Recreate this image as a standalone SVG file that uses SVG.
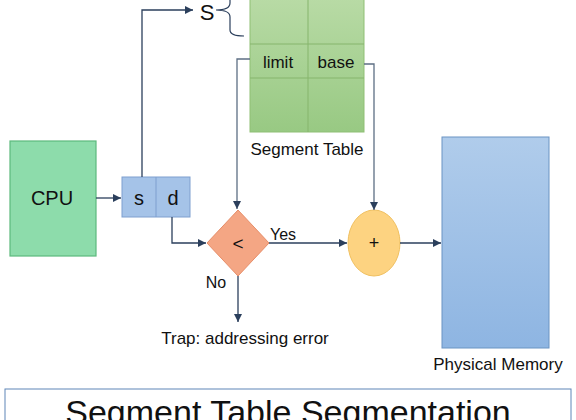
<svg xmlns="http://www.w3.org/2000/svg" width="576" height="420" viewBox="0 0 576 420">
<defs>
<linearGradient id="gTable" x1="0" y1="0" x2="0" y2="1"><stop offset="0" stop-color="#b9dba6"/><stop offset="1" stop-color="#98c983"/></linearGradient>
<linearGradient id="gMem" x1="0" y1="0" x2="0" y2="1"><stop offset="0" stop-color="#b0cceb"/><stop offset="1" stop-color="#8eb5e2"/></linearGradient>
<marker id="arr" viewBox="0 0 10 10" refX="10" refY="5" markerWidth="8" markerHeight="8" markerUnits="userSpaceOnUse" orient="auto"><path d="M0,0 L10,5 L0,10 z" fill="#2b3f5c"/></marker>
</defs>
<style>
text{font-family:"Liberation Sans",Arial,sans-serif;fill:#111;}
.lbl{font-size:17px;}
.conn{fill:none;stroke:#2b3f5c;stroke-width:1.3;}
.thin{fill:none;stroke:#5d6f84;stroke-width:1.3;}
</style>
<rect width="576" height="420" fill="#fff"/>

<g id="segment-table">
<rect x="250" y="-5" width="114" height="137" fill="url(#gTable)" stroke="#8fbf75" stroke-width="1"/>
<line x1="250" y1="44" x2="364" y2="44" stroke="#86b56d" stroke-width="1"/>
<line x1="250" y1="78" x2="364" y2="78" stroke="#86b56d" stroke-width="1"/>
<line x1="308" y1="-5" x2="308" y2="132" stroke="#86b56d" stroke-width="1"/>
<text x="278" y="68" font-size="17" text-anchor="middle">limit</text>
<text x="336" y="68" font-size="17" text-anchor="middle">base</text>
<text x="307" y="155" class="lbl" text-anchor="middle">Segment Table</text>
</g>

<g id="s-label">
<text x="207" y="20" font-size="22" text-anchor="middle">S</text>
<path d="M230,-5 L230,3 Q230,10 216,10 Q230,10 230,17 L230,30 Q230,36 244,36" fill="none" stroke="#2b3f5c" stroke-width="1.2"/>
</g>

<g id="cpu">
<rect x="10" y="141" width="86" height="115" fill="#8ddcab" stroke="#5db97d" stroke-width="1.2"/>
<text x="52" y="205" font-size="20" text-anchor="middle">CPU</text>
</g>

<g id="address">
<rect x="122" y="177" width="68" height="40" fill="#a5c3e8" stroke="#7e9fcf" stroke-width="1"/>
<line x1="156" y1="177" x2="156" y2="217" stroke="#7e9fcf" stroke-width="1"/>
<text x="139" y="205" font-size="20" text-anchor="middle">s</text>
<text x="173" y="205" font-size="20" text-anchor="middle">d</text>
</g>

<g id="compare">
<polygon points="238,210 269,243 238,276 207,243" fill="#f4a684" stroke="#e68d68" stroke-width="1"/>
<text x="238" y="250" font-size="19" text-anchor="middle">&lt;</text>
</g>

<g id="adder">
<ellipse cx="374" cy="243" rx="26" ry="33" fill="#fdd381" stroke="#f0c060" stroke-width="1"/>
<text x="374" y="249" font-size="18" text-anchor="middle">+</text>
</g>

<g id="physical-memory">
<rect x="442" y="137" width="107" height="211" fill="url(#gMem)" stroke="#6b94c3" stroke-width="1"/>
<text x="498" y="370" class="lbl" text-anchor="middle">Physical Memory</text>
</g>

<g id="trap">
<text x="245" y="344" class="lbl" text-anchor="middle">Trap: addressing error</text>
</g>

<g id="connectors">
<line x1="96" y1="198" x2="121" y2="198" class="conn" marker-end="url(#arr)"/>
<polyline points="142,177 142,10 193,10" class="conn" marker-end="url(#arr)"/>
<polyline points="172,217 172,243 206,243" class="conn" marker-end="url(#arr)"/>
<polyline points="250,59 237,59 237,209" class="thin" marker-end="url(#arr)"/>
<polyline points="364,64 374,64 374,210" class="thin" marker-end="url(#arr)"/>
<line x1="269" y1="243" x2="347" y2="243" class="conn" marker-end="url(#arr)"/>
<line x1="400" y1="243" x2="441" y2="243" class="conn" marker-end="url(#arr)"/>
<line x1="238" y1="276" x2="238" y2="322" class="conn" marker-end="url(#arr)"/>
<text x="283" y="240" font-size="16" text-anchor="middle">Yes</text>
<text x="216" y="288" font-size="16" text-anchor="middle">No</text>
</g>

<g id="title">
<rect x="5" y="389" width="566" height="40" fill="#fff" stroke="#5f86b8" stroke-width="1"/>
<text x="288" y="424" font-family="'DejaVu Serif',serif" font-size="34" text-anchor="middle">Segment Table Segmentation</text>
</g>
</svg>
